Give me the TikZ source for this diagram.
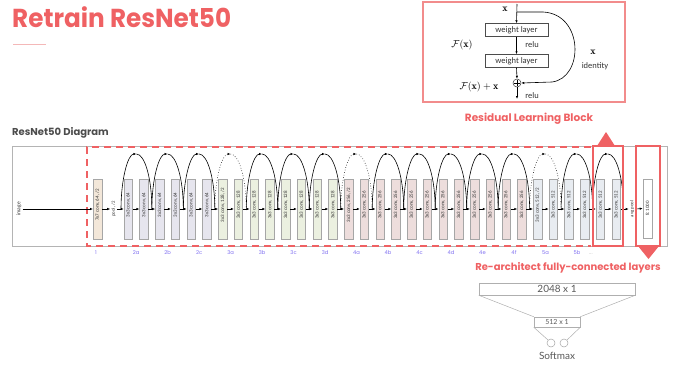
\documentclass[tikz,border=0pt]{standalone}
\usepackage{fontspec}
\usepackage{amsmath}
\usetikzlibrary{arrows.meta,calc}
\newfontfamily\popfont{Poppins}
\newfontfamily\carfont{Carlito}
\newfontfamily\latofont{Lato}
\definecolor{accent}{HTML}{EF6163}
\definecolor{accentlight}{HTML}{F28C8C}
\definecolor{underl}{HTML}{F4B8B8}
\definecolor{framegray}{HTML}{B4B4B4}
\definecolor{stagecol}{HTML}{7F6FF0}
\definecolor{cSeven}{HTML}{F3E7D9}
\definecolor{cSixFour}{HTML}{E6E5EE}
\definecolor{cOneTwoEight}{HTML}{EBF0E0}
\definecolor{cTwoFiveSix}{HTML}{EDDDDC}
\definecolor{cFiveOneTwo}{HTML}{E8ECF1}
\definecolor{fcgray}{HTML}{8C8C8C}
\newcommand{\convblk}[3]{%
  \node[convbox, fill=#2] (b#1) at ({128.25+#1*15.74},209) {};
  \node[convtext] at (b#1.center) {#3};}
\begin{document}
\begin{tikzpicture}[x=1pt,y=-1pt,
  arr/.style={-{Latex[length=3pt,width=2.4pt]}, line width=0.6pt},
  convbox/.style={draw=black!35, line width=0.5pt, minimum width=8.5pt, minimum height=60pt, inner sep=0pt},
  convtext/.style={rotate=90, xshift=4pt, font=\carfont\fontsize{5}{6}\selectfont, text=black!80, inner sep=0pt},
  sidetext/.style={rotate=90, font=\carfont\fontsize{4.8}{5.5}\selectfont, text=black!80, inner sep=1pt},
  stagelbl/.style={font=\popfont\fontsize{5.2}{6}\selectfont, text=stagecol},
  skiparc/.style={line width=0.6pt},
  dotarc/.style={line width=0.6pt, dotted},
  redbox/.style={draw=accent, line width=1.8pt, minimum width=30pt, minimum height=100pt, inner sep=0pt},
  tri/.style={fill=accent, draw=none},
  wl/.style={draw=black!70, line width=0.5pt, minimum width=63pt, minimum height=13pt, inner sep=0pt, font=\carfont\fontsize{8.5}{9}\selectfont, text=black!80},
  rtext/.style={font=\carfont\fontsize{8.5}{9}\selectfont, text=black!80},
  heading/.style={font=\popfont\bfseries\fontsize{10.5}{12}\selectfont, text=accent},
  fcbox/.style={draw=fcgray!70, line width=0.5pt, inner sep=0pt, text=black!65},
]
\useasboundingbox (0,0) rectangle (676,367);

% Title
\node[anchor=west, inner sep=0pt, text=accent] (title) at (12,17)
  {\scalebox{0.95}[1]{\popfont\bfseries\fontsize{26}{30}\selectfont Retrain ResNet50}};
\draw[underl, line width=0.7pt] (13,44) -- (46,44);

% Residual block illustration
\node[draw=accentlight, line width=1.3pt, minimum width=202pt, minimum height=100pt] (rbox) at (524,52) {};
\node[inner sep=0pt, font=\fontsize{10}{11}\selectfont] (xin) at (505,9) {$\mathbf{x}$};
\coordinate (top) at (517,4);
\coordinate (split) at (517,12);
\node[wl] (w1) at (516.5,30) {weight layer};
\node[wl] (w2) at (516.5,61) {weight layer};
\node[circle, draw=black!80, line width=0.5pt, minimum size=8pt, inner sep=0pt] (plus) at (517,83) {};
\draw[line width=0.5pt] ($(plus.center)+(0,-2.6)$) -- ($(plus.center)+(0,2.6)$)
  ($(plus.center)+(-2.6,0)$) -- ($(plus.center)+(2.6,0)$);
\coordinate (outend) at (517,99);
\draw[arr] (top) -- (w1.north);
\draw[arr] (w1.south) -- (w2.north);
\draw[arr] (w2.south) -- (plus.north);
\draw[arr] (plus.south) -- (outend);
\draw[arr] (split) -- (543,12) .. controls (584,14) and (584,78) .. (552,82) -- (plus.east);
\node[rtext] (relu1) at (532,45) {relu};
\node[rtext] (relu2) at (532,96) {relu};
\node[font=\fontsize{10}{11}\selectfont] (fx) at (462,45) {$\mathcal{F}(\mathbf{x})$};
\node[font=\fontsize{10}{11}\selectfont] (fxx) at (479,87) {$\mathcal{F}(\mathbf{x})+\mathbf{x}$};
\node[font=\fontsize{10}{11}\selectfont] (xid) at (593,52) {$\mathbf{x}$};
\node[rtext] (ident) at (595,66) {identity};

% Headings
\node[anchor=west, inner sep=0pt, font=\popfont\bfseries\fontsize{10}{12}\selectfont, text=black!70] (diagtitle) at (12,133) {ResNet50 Diagram};
\node[heading] (rlb) at (529,119) {Residual Learning Block};
\node[heading, font=\popfont\bfseries\fontsize{10}{12}\selectfont] (rfc) at (568,268) {Re-architect fully-connected layers};

% Frame
\draw[framegray, line width=0.7pt] (12,146) rectangle (667,246);

% Red dashed region
\draw[accent, line width=1.8pt, dash pattern=on 7pt off 5pt] (591,147) -- (87,147) -- (87,246) -- (591,246);

% Blocks
\node[convbox, fill=cSeven] (c7) at (97.5,209) {};
\node[convtext] at (c7.center) {7x7 conv, 64, /2};
\foreach \i in {0,...,5}{\convblk{\i}{cSixFour}{3x3 conv, 64}}
\convblk{6}{cOneTwoEight}{3x3 conv, 128, /2}
\foreach \i in {7,...,13}{\convblk{\i}{cOneTwoEight}{3x3 conv, 128}}
\convblk{14}{cTwoFiveSix}{3x3 conv, 256, /2}
\foreach \i in {15,...,25}{\convblk{\i}{cTwoFiveSix}{3x3 conv, 256}}
\convblk{26}{cFiveOneTwo}{3x3 conv, 512, /2}
\foreach \i in {27,...,31}{\convblk{\i}{cFiveOneTwo}{3x3 conv, 512}}
\node[convbox, fill=white, minimum width=9pt, minimum height=59pt] (fc) at (647.5,208.5) {};
\node[convtext, xshift=-4pt] at (fc.center) {fc 1000};

\node[sidetext, font=\carfont\fontsize{5.5}{6}\selectfont] (img) at (19,209) {image};
\node[sidetext] (pool) at (113.5,209) {pool, /2};
\node[sidetext] (avg) at (632,209) {avg pool};

% Main arrows
\draw[arr] (img.south) -- (c7.west);
\draw[arr] (c7.east) -- (pool.north);
\draw[arr] (pool.south) -- (b0.west);
\foreach \i [evaluate=\i as \j using int(\i+1)] in {0,...,30}{\draw[arr] (b\i.east) -- (b\j.west);}
\draw[arr] (b31.east) -- (avg.north);
\draw[arr] (avg.south) -- (fc.west);

% Junctions and skip connections
\coordinate (j0) at (121,209);
\foreach \k [evaluate=\k as \a using int(2*\k-1), evaluate=\k as \b using int(2*\k)] in {1,...,15}
  {\coordinate (j\k) at ($(b\a.east)!0.5!(b\b.west)$);}
\coordinate (j16) at (623.5,209);
\foreach \k [evaluate=\k as \kk using int(\k+1)] in {0,...,15}
  {\coordinate (m\k) at ($(j\k)!0.5!(j\kk)+(0,-55)$);}
\foreach \k [evaluate=\k as \kk using int(\k+1)] in {0,1,2,4,5,6,8,9,10,11,12,14,15}{
  \draw[skiparc, arr] (j\k) .. controls +(0,-30) and +(-8.5,0) .. (m\k);
  \draw[skiparc] (m\k) .. controls +(8.5,0) and +(0,-30) .. (j\kk);}
\foreach \k [evaluate=\k as \kk using int(\k+1)] in {3,7,13}{
  \draw[dotarc, arr] (j\k) .. controls +(0,-30) and +(-8.5,0) .. (m\k);
  \draw[dotarc] (m\k) .. controls +(8.5,0) and +(0,-30) .. (j\kk);}

% Highlight boxes and triangles
\node[redbox] (resb) at (608,196) {};
\node[redbox, minimum width=24pt] (fcb) at (648,196) {};
\fill[tri] (597,146) -- (615,146) -- (606,132) -- cycle;
\fill[tri] (638,246) -- (659,246) -- (648.5,259) -- cycle;

% Stage labels
\node[stagelbl] (s1) at (96,253) {1};
\foreach \k/\t in {0/2a,1/2b,2/2c,3/3a,4/3b,5/3c,6/3d,7/4a,8/4b,9/4c,10/4d,11/4e,12/4f,13/5a,14/5b}
  {\node[stagelbl] (st\k) at ({136.2+\k*31.48},253) {\t};}
\node[stagelbl, text=black!30] (dots) at (591,254) {...};

% New FC layers
\node[fcbox, minimum width=156pt, minimum height=12pt, font=\latofont\fontsize{10}{11}\selectfont] (f2048) at (557,289) {2048 x 1};
\node[fcbox, minimum width=46pt, minimum height=10pt, font=\latofont\fontsize{7}{8}\selectfont] (f512) at (557,322) {512 x 1};
\draw[fcgray!70, line width=0.5pt] (f2048.south west) -- (f512.north west);
\draw[fcgray!70, line width=0.5pt] (f2048.south east) -- (f512.north east);
\node[circle, draw=fcgray!80, line width=0.5pt, minimum size=8pt, inner sep=0pt] (sm1) at (551,343) {};
\node[circle, draw=fcgray!80, line width=0.5pt, minimum size=8pt, inner sep=0pt] (sm2) at (564,343) {};
\draw[fcgray!70, line width=0.5pt] (f512.south west) -- (sm1.135);
\draw[fcgray!70, line width=0.5pt] (f512.south east) -- (sm2.45);
\node[font=\latofont\fontsize{10}{11}\selectfont, text=black!65] (smx) at (557,356) {Softmax};
\end{tikzpicture}
\end{document}
